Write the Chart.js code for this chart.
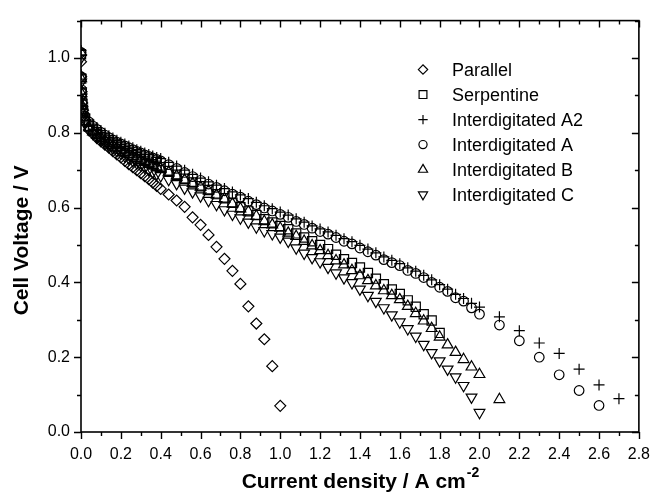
<!DOCTYPE html>
<html>
<head>
<meta charset="utf-8">
<script src="https://cdn.jsdelivr.net/npm/chart.js@4.4.1/dist/chart.umd.min.js"></script>
<style>
  html, body { margin: 0; padding: 0; background: #fff; }
  .chart-container { position: relative; width: 663px; height: 500px; }
</style>
</head>
<body>
<div class="chart-container"><canvas id="polarization-chart"></canvas></div>
<script>
// current density grid (A cm-2)
const jEarly = [0, 0.001, 0.003, 0.006, 0.01, 0.02, 0.04, 0.06, 0.08, 0.10, 0.12, 0.14,
  0.16, 0.18, 0.20, 0.22, 0.24, 0.26, 0.28, 0.30, 0.32, 0.34, 0.36, 0.38];
const jMid = [0.40, 0.44, 0.48, 0.52, 0.56, 0.60, 0.64, 0.68, 0.72, 0.76, 0.80, 0.84,
  0.88, 0.92, 0.96, 1.00, 1.04, 1.08, 1.12, 1.16, 1.20, 1.24, 1.28, 1.32, 1.36, 1.40,
  1.44, 1.48, 1.52, 1.56, 1.60, 1.64, 1.68, 1.72, 1.76, 1.80, 1.84, 1.88, 1.92, 1.96, 2.00];
const jTail = [2.1, 2.2, 2.3, 2.4, 2.5, 2.6, 2.7];

// cell voltage (V)
const parallelV = [0.99, 0.95, 0.91, 0.88, 0.86, 0.835, 0.808, 0.797, 0.786, 0.777, 0.768, 0.760,
  0.751, 0.742, 0.734, 0.725, 0.716, 0.708, 0.700, 0.692, 0.684, 0.676, 0.667, 0.658,
  0.650, 0.635, 0.619, 0.602, 0.574, 0.554, 0.527, 0.495, 0.463, 0.431, 0.396, 0.336,
  0.290, 0.248, 0.176, 0.070];
const serpentineV = [1.01, 0.945, 0.905, 0.875, 0.852, 0.833, 0.817, 0.806, 0.797, 0.789, 0.782, 0.775,
  0.769, 0.763, 0.757, 0.751, 0.746, 0.740, 0.735, 0.730, 0.725, 0.720, 0.716, 0.712,
  0.708, 0.698, 0.688, 0.677, 0.667, 0.657, 0.647, 0.636, 0.625, 0.613, 0.601, 0.590,
  0.580, 0.569, 0.560, 0.551, 0.542, 0.531, 0.520, 0.510, 0.500, 0.489, 0.474, 0.462,
  0.452, 0.440, 0.425, 0.410, 0.395, 0.381, 0.369, 0.352, 0.335, 0.315, 0.298, 0.265];
const interA2V = [1.02, 0.955, 0.92, 0.89, 0.87, 0.85, 0.834, 0.823, 0.814, 0.806, 0.799, 0.792,
  0.786, 0.780, 0.775, 0.770, 0.765, 0.760, 0.755, 0.751, 0.746, 0.742, 0.738, 0.734,
  0.731, 0.721, 0.711, 0.700, 0.689, 0.679, 0.669, 0.660, 0.651, 0.642, 0.634, 0.624,
  0.614, 0.605, 0.597, 0.588, 0.580, 0.570, 0.561, 0.551, 0.543, 0.535, 0.526, 0.517,
  0.509, 0.499, 0.489, 0.479, 0.468, 0.459, 0.450, 0.439, 0.430, 0.419, 0.407, 0.394,
  0.382, 0.368, 0.357, 0.344, 0.334,
  0.308, 0.271, 0.238, 0.210, 0.168, 0.126, 0.089];
const interAV = [1.015, 0.95, 0.915, 0.885, 0.865, 0.845, 0.829, 0.818, 0.809, 0.801, 0.794, 0.787,
  0.781, 0.775, 0.770, 0.765, 0.760, 0.755, 0.750, 0.746, 0.741, 0.737, 0.733, 0.729,
  0.725, 0.715, 0.705, 0.694, 0.683, 0.673, 0.663, 0.654, 0.645, 0.636, 0.628, 0.617,
  0.608, 0.599, 0.591, 0.582, 0.574, 0.563, 0.555, 0.545, 0.536, 0.529, 0.520, 0.510,
  0.503, 0.492, 0.482, 0.473, 0.461, 0.453, 0.445, 0.432, 0.424, 0.413, 0.400, 0.387,
  0.376, 0.359, 0.350, 0.332, 0.315,
  0.286, 0.244, 0.200, 0.153, 0.111, 0.071];
const interBV = [1.015, 0.945, 0.905, 0.872, 0.85, 0.83, 0.814, 0.803, 0.794, 0.786, 0.779, 0.772,
  0.766, 0.760, 0.754, 0.748, 0.743, 0.737, 0.732, 0.727, 0.722, 0.717, 0.713, 0.709,
  0.705, 0.695, 0.685, 0.674, 0.665, 0.655, 0.645, 0.634, 0.623, 0.610, 0.597, 0.589,
  0.577, 0.563, 0.554, 0.545, 0.532, 0.523, 0.510, 0.498, 0.485, 0.472, 0.458, 0.447,
  0.432, 0.418, 0.405, 0.391, 0.378, 0.365, 0.354, 0.336, 0.317, 0.297, 0.277, 0.254,
  0.233, 0.213, 0.194, 0.174, 0.154,
  0.087];
const interCV = [1.0, 0.935, 0.895, 0.865, 0.843, 0.825, 0.809, 0.798, 0.789, 0.781, 0.773, 0.766,
  0.759, 0.752, 0.745, 0.738, 0.732, 0.725, 0.719, 0.713, 0.707, 0.701, 0.695, 0.690,
  0.685, 0.675, 0.664, 0.652, 0.642, 0.631, 0.619, 0.608, 0.594, 0.582, 0.572, 0.561,
  0.548, 0.538, 0.530, 0.521, 0.510, 0.492, 0.478, 0.466, 0.455, 0.440, 0.425, 0.412,
  0.399, 0.382, 0.365, 0.349, 0.332, 0.313, 0.294, 0.276, 0.256, 0.234, 0.212, 0.190,
  0.168, 0.147, 0.124, 0.093, 0.052];

const seriesNames = ['Parallel', 'Serpentine', 'Interdigitated A2', 'Interdigitated A',
  'Interdigitated B', 'Interdigitated C'];

const jAll = jEarly.concat(jMid, jTail);
const toPoints = (volts) => volts.map((v, i) => ({ x: jAll[i], y: v }));

const isMajor = (v) => Math.round(v * 10) % 2 === 0;

Chart.defaults.font.family = "'Liberation Sans', Arial, sans-serif";
Chart.defaults.color = '#000';

const markers = [
  { style: 'rectRot', radius: 5.5, rotation: 0 },
  { style: 'rect', radius: 6.5, rotation: 0 },
  { style: 'cross', radius: 5.5, rotation: 0 },
  { style: 'circle', radius: 4.8, rotation: 0 },
  { style: 'triangle', radius: 6.2, rotation: 0 },
  { style: 'triangle', radius: 6.2, rotation: 180 },
];

const frameAndLabels = {
  id: 'frameAndLabels',
  afterDraw(chart) {
    const ctx = chart.ctx;
    const { left, right, top, bottom } = chart.chartArea;
    const xs = chart.scales.x;
    const ys = chart.scales.y;
    ctx.save();
    ctx.strokeStyle = '#000';
    ctx.lineWidth = 1.6;
    ctx.strokeRect(left, top, right - left, bottom - top);

    ctx.lineWidth = 1.4;
    ctx.beginPath();
    xs.ticks.forEach((t) => {
      const px = Math.round(xs.getPixelForValue(t.value)) + 0.5;
      const len = isMajor(t.value) ? 7 : 4;
      ctx.moveTo(px, bottom); ctx.lineTo(px, bottom + len);
      ctx.moveTo(px, top); ctx.lineTo(px, top + len);
    });
    ys.ticks.forEach((t) => {
      const py = Math.round(ys.getPixelForValue(t.value)) + 0.5;
      const len = isMajor(t.value) ? 7 : 4;
      ctx.moveTo(left - len, py); ctx.lineTo(left, py);
      ctx.moveTo(right - len, py); ctx.lineTo(right, py);
    });
    ctx.stroke();

    // axis titles
    ctx.fillStyle = '#000';
    ctx.textBaseline = 'alphabetic';
    const main = 'Current density / A cm';
    const sup = '-2';
    ctx.font = "bold 21px 'Liberation Sans', Arial, sans-serif";
    const wMain = ctx.measureText(main).width;
    ctx.font = "bold 14px 'Liberation Sans', Arial, sans-serif";
    const wSup = ctx.measureText(sup).width;
    const x0 = (left + right) / 2 - (wMain + wSup) / 2;
    ctx.font = "bold 21px 'Liberation Sans', Arial, sans-serif";
    ctx.textAlign = 'left';
    ctx.fillText(main, x0, 488);
    ctx.font = "bold 14px 'Liberation Sans', Arial, sans-serif";
    ctx.fillText(sup, x0 + wMain + 1, 477);

    ctx.save();
    ctx.translate(28, (top + bottom) / 2 + 14);
    ctx.rotate(-Math.PI / 2);
    ctx.textAlign = 'center';
    ctx.font = "bold 21px 'Liberation Sans', Arial, sans-serif";
    ctx.fillText('Cell Voltage / V', 0, 0);
    ctx.restore();

    // legend
    ctx.font = "18px 'Liberation Sans', Arial, sans-serif";
    ctx.textAlign = 'left';
    ctx.textBaseline = 'middle';
    chart.data.datasets.forEach((ds, i) => {
      const rowY = top + 49 + i * 25;
      const mk = markers[i];
      ctx.strokeStyle = '#000';
      ctx.fillStyle = 'rgba(0,0,0,0)';
      ctx.lineWidth = 1.2;
      Chart.helpers.drawPoint(ctx, {
        pointStyle: mk.style,
        radius: mk.radius * 0.85,
        rotation: mk.rotation,
        borderWidth: 1.2,
      }, left + 342, rowY);
      ctx.fillStyle = '#000';
      ctx.fillText(ds.label, left + 371, rowY + 1);
    });
    ctx.restore();
  }
};

const allVolts = [parallelV, serpentineV, interA2V, interAV, interBV, interCV];

const container = document.getElementById('polarization-chart').getContext('2d');
const chart = new Chart(container, {
  type: 'scatter',
  data: {
    datasets: allVolts.map((volts, i) => ({
      label: seriesNames[i],
      data: toPoints(volts),
      showLine: false,
      pointStyle: markers[i].style,
      pointRadius: markers[i].radius,
      pointRotation: markers[i].rotation,
      borderColor: '#000',
      backgroundColor: 'rgba(0,0,0,0)',
      pointBorderWidth: 1.2,
    }))
  },
  options: {
    animation: false,
    maintainAspectRatio: false,
    responsive: true,
    layout: {
      padding: { top: 14, right: 12, left: 0, bottom: 0 }
    },
    plugins: {
      legend: { display: false },
      tooltip: { enabled: false },
    },
    scales: {
      x: {
        type: 'linear',
        min: 0,
        max: 2.8,
        afterFit: (scale) => { scale.height = 68; },
        border: { display: false },
        grid: { display: false, drawTicks: false },
        ticks: {
          stepSize: 0.1,
          autoSkip: false,
          maxRotation: 0,
          padding: 13,
          font: { size: 16 },
          callback: (v) => isMajor(v) ? v.toFixed(1) : '',
        }
      },
      y: {
        type: 'linear',
        min: 0,
        max: 1.1,
        afterFit: (scale) => { scale.width = 81; },
        border: { display: false },
        grid: { display: false, drawTicks: false },
        ticks: {
          stepSize: 0.1,
          autoSkip: false,
          padding: 11,
          font: { size: 16 },
          callback: (v) => (isMajor(v) && v < 1.05) ? v.toFixed(1) : '',
        }
      }
    }
  },
  plugins: [frameAndLabels]
});
</script>
</body>
</html>
